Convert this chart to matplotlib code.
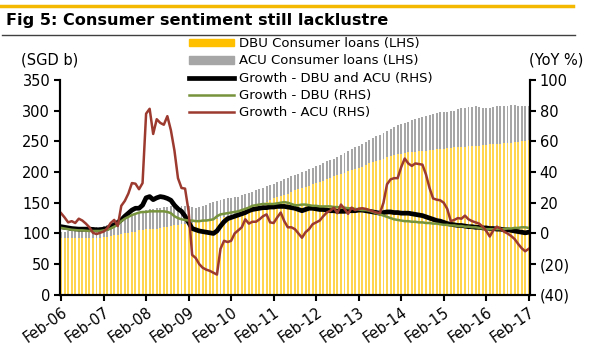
import numpy as np
import matplotlib
matplotlib.use("Agg")
import matplotlib.pyplot as plt
from matplotlib.lines import Line2D

# Monthly data, Feb-06 .. Feb-17 (133 months)
tick_labels = ["Feb-06", "Feb-07", "Feb-08", "Feb-09", "Feb-10", "Feb-11",
               "Feb-12", "Feb-13", "Feb-14", "Feb-15", "Feb-16", "Feb-17"]

# DBU consumer loans (SGD b, LHS)
dbu_loans = [
    92, 92, 92, 92, 92, 92, 92, 92, 93, 93, 93, 93,
    94, 95, 96, 97, 98, 99, 100, 101, 102, 103, 105, 106,
    107, 107, 108, 108, 109, 110, 111, 112, 113, 114, 115, 116,
    117, 117, 118, 118, 119, 120, 121, 122, 123, 125, 126, 128,
    130, 132, 134, 136, 138, 140, 143, 145, 147, 150, 152, 155,
    157, 159, 161, 163, 165, 167, 170, 172, 174, 176, 178, 180,
    182, 184, 186, 188, 191, 193, 195, 197, 199, 201, 203, 205,
    207, 209, 212, 214, 216, 218, 220, 222, 224, 226, 228, 229,
    230, 231, 232, 233, 233, 234, 235, 235, 236, 236, 237, 238,
    238, 239, 239, 240, 240, 241, 241, 242, 242, 243, 243, 244,
    244, 245, 245, 246, 246, 247, 248, 248, 249, 249, 250, 251,
    252,
]

# DBU + ACU consumer loans (SGD b, LHS) - top of the grey bars
total_loans = [
    102, 103, 104, 105, 106, 107, 108, 109, 110, 110, 111, 111,
    112, 113, 115, 117, 120, 123, 126, 129, 131, 133, 135, 137,
    138, 139, 140, 141, 142, 143, 143, 144, 144, 145, 145, 145,
    144, 143, 142, 143, 145, 147, 149, 151, 153, 155, 156, 157,
    158, 159, 160, 162, 164, 166, 168, 170, 172, 174, 177, 179,
    181, 183, 186, 188, 190, 193, 195, 197, 200, 202, 205, 207,
    210, 212, 215, 218, 220, 222, 225, 228, 231, 234, 237, 240,
    243, 246, 249, 252, 255, 258, 261, 264, 267, 270, 273, 276,
    278, 280, 282, 284, 286, 288, 290, 292, 293, 294, 296, 297,
    298, 298, 299, 300, 303, 304, 305, 306, 306, 307, 306, 305,
    304, 305, 306, 307, 307, 308, 308, 309, 309, 308, 307, 307,
    307,
]

# YoY growth, % (RHS)
growth_total = [
    4.4, 4.0, 3.6, 3.2, 3.0, 2.8, 2.8, 2.8, 2.8, 2.6, 2.4, 2.4,
    2.8, 3.2, 4.4, 5.6, 7.2, 8.8, 11.2, 13.2, 15.2, 16.4, 16.4, 18.4,
    23.2, 24.0, 22.0, 23.2, 24.0, 23.6, 22.8, 21.6, 18.4, 16.0, 14.4, 11.2,
    7.2, 3.2, 2.4, 1.6, 1.2, 0.8, 0.4, 0.0, 1.6, 4.8, 7.6, 9.6,
    10.4, 11.2, 12.0, 12.8, 13.6, 14.8, 15.6, 16.0, 16.4, 16.8, 16.8, 17.2,
    17.2, 17.6, 17.6, 17.6, 17.2, 16.8, 16.4, 15.6, 14.8, 15.6, 16.4, 16.4,
    16.0, 15.6, 15.6, 15.2, 14.8, 14.8, 14.4, 14.4, 14.4, 14.8, 14.8, 14.8,
    15.2, 15.2, 14.8, 14.4, 14.0, 13.6, 13.2, 13.6, 14.0, 14.0, 13.6, 13.6,
    13.2, 13.2, 13.2, 12.8, 12.4, 12.0, 11.6, 10.8, 10.0, 9.2, 8.4, 8.0,
    7.2, 6.4, 6.0, 5.6, 5.2, 5.2, 4.8, 4.4, 4.4, 4.0, 4.0, 3.6,
    3.6, 3.2, 3.2, 2.8, 2.8, 2.4, 2.4, 2.0, 1.6, 1.2, 0.8, 0.4,
    0.8,
]

growth_dbu = [
    3.6, 3.2, 2.8, 2.4, 2.2, 2.0, 2.0, 1.8, 1.6, 1.6, 1.6, 1.6,
    2.0, 2.4, 3.2, 4.4, 5.6, 8.0, 9.6, 10.8, 12.0, 12.8, 13.6, 14.0,
    14.0, 14.4, 14.4, 14.4, 14.4, 14.4, 14.0, 13.2, 11.2, 10.0, 9.2, 8.8,
    8.4, 8.4, 8.0, 8.0, 8.4, 8.4, 8.8, 9.2, 11.2, 12.4, 12.8, 13.2,
    13.6, 14.0, 14.4, 15.2, 16.0, 16.8, 18.0, 18.4, 18.8, 19.2, 19.2, 19.2,
    19.2, 19.6, 20.0, 20.4, 20.0, 19.2, 18.4, 18.4, 18.8, 18.8, 18.4, 18.0,
    18.0, 17.6, 17.6, 17.6, 17.6, 17.2, 17.2, 16.8, 16.8, 16.4, 16.4, 16.0,
    15.6, 15.2, 15.2, 14.8, 14.0, 13.2, 12.4, 11.6, 10.8, 10.0, 9.2, 8.8,
    8.4, 8.0, 8.0, 7.6, 7.6, 7.2, 7.2, 6.8, 6.8, 6.4, 6.4, 6.0,
    5.6, 5.6, 5.2, 5.2, 4.8, 4.8, 4.4, 4.4, 4.0, 4.0, 3.6, 3.2,
    2.8, 2.8, 2.8, 2.8, 2.8, 2.8, 3.2, 3.2, 3.6, 3.6, 4.0, 4.0,
    3.6,
]

growth_acu = [
    13.2, 10.4, 7.2, 8.0, 6.8, 9.6, 8.4, 6.4, 4.0, 0.4, -0.4, 0.4,
    1.2, 3.2, 6.8, 8.8, 4.8, 18.0, 21.2, 26.0, 32.8, 32.4, 28.8, 32.8,
    78.0, 81.2, 64.8, 74.4, 72.0, 70.8, 76.4, 67.2, 54.0, 36.0, 29.6, 29.2,
    14.4, -14.0, -16.0, -20.0, -22.4, -23.6, -24.4, -25.6, -26.8, -10.0, -4.8, -5.6,
    -4.8, 0.0, 2.0, 4.0, 9.2, 6.4, 7.6, 7.6, 9.2, 11.2, 12.4, 7.2,
    6.8, 10.4, 13.6, 8.0, 4.0, 4.0, 2.8, 0.0, -2.8, 0.8, 2.8, 6.0,
    7.2, 8.4, 11.2, 13.6, 14.8, 16.8, 13.2, 18.8, 16.0, 12.8, 16.8, 15.2,
    16.0, 16.4, 16.0, 15.2, 14.4, 13.6, 13.2, 20.0, 32.0, 35.2, 36.0, 36.0,
    43.2, 48.8, 45.6, 44.0, 45.6, 45.2, 44.8, 38.4, 29.6, 22.8, 22.0, 21.6,
    20.0, 16.0, 8.0, 8.8, 10.0, 9.6, 11.6, 9.2, 8.0, 7.2, 6.4, 4.4,
    1.6, -2.0, 2.0, 4.4, 3.2, 1.2, 0.0, -1.6, -3.6, -6.8, -9.6, -11.6,
    -10.0,
]


def rhs_fmt(v, _pos):
    v = int(round(v))
    return f"({-v})" if v < 0 else f"{v}"


def main() -> None:
    plt.rcParams["font.family"] = ["DejaVu Sans"]
    fig = plt.figure(figsize=(6, 3.6), dpi=100)
    ax = fig.add_axes([0.1, 0.181, 0.783, 0.597])
    ax2 = ax.twinx()

    x = np.arange(len(dbu_loans))
    ax.bar(x, total_loans, width=0.55, color="#A6A6A6", linewidth=0)
    ax.bar(x, dbu_loans, width=0.55, color="#FFD54F", linewidth=0)

    ax2.plot(x, growth_total, color="black", lw=3.4, solid_capstyle="round")
    ax2.plot(x, growth_dbu, color="#77933C", lw=1.8)
    ax2.plot(x, growth_acu, color="#9C3A2F", lw=1.8)

    ax.set_xlim(-0.3, len(x) - 0.7)
    ax.set_ylim(0, 350)
    ax.set_yticks(range(0, 351, 50))
    ax2.set_ylim(-40, 100)
    ax2.set_yticks(range(-40, 101, 20))
    ax2.yaxis.set_major_formatter(plt.FuncFormatter(rhs_fmt))

    ax.set_xticks(np.arange(0, len(x), 12))
    ax.set_xticklabels(tick_labels, rotation=35, ha="right", rotation_mode="anchor")

    for a in (ax, ax2):
        a.spines["top"].set_visible(False)
        for s in ("left", "right", "bottom"):
            a.spines[s].set_linewidth(1.5)
        a.tick_params(direction="out", length=4, width=1.5, labelsize=10.5, pad=3)

    fig.text(0.083, 0.834, "(SGD b)", fontsize=10.5, ha="center", va="center")
    fig.text(0.927, 0.834, "(YoY %)", fontsize=10.5, ha="center", va="center")

    handles = [
        plt.Rectangle((0, 0), 1, 1, color="#FFC000"),
        plt.Rectangle((0, 0), 1, 1, color="#A6A6A6"),
        Line2D([], [], color="black", lw=3.4),
        Line2D([], [], color="#77933C", lw=1.8),
        Line2D([], [], color="#9C3A2F", lw=1.8),
    ]
    labels = ["DBU Consumer loans (LHS)", "ACU Consumer loans (LHS)",
              "Growth - DBU and ACU (RHS)", "Growth - DBU (RHS)", "Growth - ACU (RHS)"]
    fig.legend(handles, labels, loc="upper left", bbox_to_anchor=(0.315, 0.897),
               frameon=False, fontsize=9.5, handlelength=3.4, handleheight=0.5,
               handletextpad=0.4, labelspacing=0.33, borderpad=0, borderaxespad=0)

    # header lines and title
    fig.add_artist(Line2D([0.0, 0.955], [0.982, 0.982], color="#F5B800", lw=2.5))
    fig.add_artist(Line2D([0.003, 0.958], [0.903, 0.903], color="#404040", lw=1))
    fig.text(0.01, 0.942, "Fig 5: Consumer sentiment still lacklustre",
             fontsize=11.6, fontweight="bold", va="center", ha="left")

    fig.savefig("out.png", dpi=100)


if __name__ == "__main__":
    main()
